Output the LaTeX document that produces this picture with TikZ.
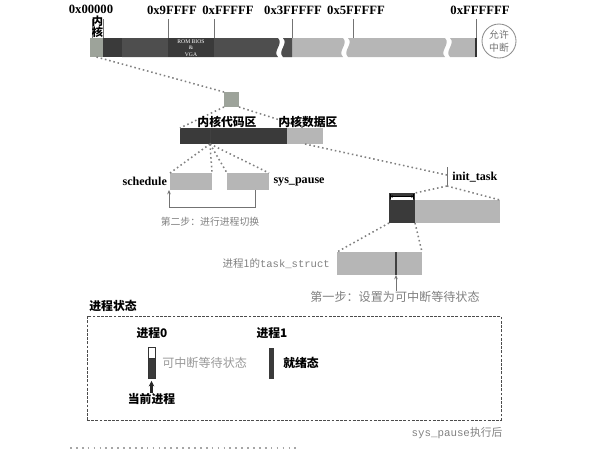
\documentclass[tikz,border=0pt]{standalone}
\usepackage{fontspec}
\setmainfont{Liberation Serif}
\setmonofont{Liberation Mono}
\newfontfamily\cjk{Noto Sans CJK SC}
\usetikzlibrary{arrows.meta}

\definecolor{deep}{HTML}{3A3A3A}
\definecolor{mid}{HTML}{4E4E4E}
\definecolor{light}{HTML}{B6B6B6}
\definecolor{kern}{HTML}{9DA39A}

\begin{document}
\begin{tikzpicture}[x=0.025cm, y=-0.025cm,
    hex/.style={font=\bfseries\fontsize{9}{9}\selectfont, inner sep=0pt},
    lbl/.style={font=\bfseries\fontsize{8.6}{9}\selectfont, inner sep=0pt},
    cn/.style={font=\cjk\bfseries\fontsize{8.4}{9}\selectfont, inner sep=0pt},
    note/.style={font=\cjk\fontsize{8.6}{9}\selectfont, text=black!50, inner sep=0pt},
    bar/.style={rectangle, draw=none, inner sep=0pt, outer sep=0pt},
    dot/.style={black!50, line width=1.1pt, dash pattern=on 1.1pt off 2pt},
    tick/.style={black!55, line width=0.5pt},
    arrow/.style={-{Stealth[length=3pt,width=2.5pt]}, black!55, line width=0.5pt}
]
    \useasboundingbox (0,0) rectangle (611,450);

    % Memory map
    \node[bar, fill=kern, minimum width=0.325cm, minimum height=0.475cm] (kern) at (96.5,47.5) {};
    \fill[deep] (103,38) rectangle (122,57);
    \fill[mid] (122,38) -- (278,38) .. controls (284,44) and (272,51) .. (278,57) -- (122,57) -- cycle;
    \fill[deep] (168,38) rectangle (214,57);
    \node[font=\fontsize{4}{4.5}\selectfont, text=white, align=center, inner sep=0pt] (rom) at (191,48) {ROM BIOS\\\&\\VGA};
    \fill[light] (283,38) -- (343,38) .. controls (349,44) and (337,51) .. (343,57) -- (283,57) .. controls (277,51) and (289,44) .. (283,38) -- cycle;
    \fill[mid] (283,38) -- (292,38) -- (292,57) -- (283,57) .. controls (277,51) and (289,44) .. (283,38) -- cycle;
    \fill[light] (348,38) -- (445,38) .. controls (451,44) and (439,51) .. (445,57) -- (348,57) .. controls (342,51) and (354,44) .. (348,38) -- cycle;
    \fill[light] (450,38) -- (476,38) -- (476,57) -- (450,57) .. controls (444,51) and (456,44) .. (450,38) -- cycle;
    \draw[line width=1pt, black!80] (476,38) -- (476,57);

    % Addresses
    \node[hex] (h0) at (91,9) {0x00000};
    \draw[tick] (92,19) -- (92,38);
    \draw[tick] (103,19) -- (103,38);
    \node[cn, font=\cjk\bfseries\fontsize{8}{9}\selectfont] (nei) at (97.5,21) {内};
    \node[cn, font=\cjk\bfseries\fontsize{8}{9}\selectfont] (he) at (97.5,32) {核};
    \foreach \x/\lx/\t in {168/172/0x9FFFF, 214/228/0xFFFFF, 292/293/0x3FFFFF, 353/356/0x5FFFFF, 476/480/0xFFFFFF} {
        \draw[tick] (\x,19) -- (\x,38);
        \node[hex] (h\x) at (\lx,10) {\t};
    }
    \node[circle, draw=black!45, line width=0.6pt, minimum size=0.85cm, inner sep=0pt, align=center,
          font=\cjk\fontsize{7}{9}\selectfont, text=black!55] (irq) at (499,41) {允许\\中断};

    % Kernel area
    \node[bar, fill=kern, minimum size=0.375cm] (sq) at (231.5,99.5) {};
    \draw[dot] (kern.south) -- (sq.north west);
    \node[bar, fill=deep, minimum width=2.675cm, minimum height=0.4cm] (code) at (233.5,136) {};
    \node[bar, fill=light, minimum width=0.9cm, minimum height=0.4cm] (data) at (305,136) {};
    \coordinate (split) at (210,144);
    \draw[black!75, line width=0.4pt] (210,128) -- (split);
    \draw[dot] (sq.south west) -- (code.north west);
    \draw[dot] (sq.south east) -- (data.north);
    \node[cn] (codelbl) at (227,122) {内核代码区};
    \node[cn] (datalbl) at (308,122) {内核数据区};

    % schedule / sys_pause
    \node[bar, fill=light, minimum width=1.05cm, minimum height=0.425cm] (sched) at (191,181.5) {};
    \node[bar, fill=light, minimum width=1.05cm, minimum height=0.425cm] (pause) at (248,181.5) {};
    \foreach \a in {sched.north west, sched.north east, pause.north west, pause.north east}
        \draw[dot] (split) -- (\a);
    \node[lbl, anchor=east] (schedlbl) at ([xshift=-2pt]sched.west) {schedule};
    \node[lbl, anchor=west] (pauselbl) at ([xshift=3pt]pause.east) {sys\_pause};
    \draw[arrow] ([xshift=0.175cm]pause.south) -- ++(0,17) -| ([xshift=-0.025cm]sched.south west);
    \node[note, font=\cjk\fontsize{7}{8}\selectfont] (step2) at (210,222) {第二步：进行进程切换};

    % init_task
    \node[bar, fill=light, minimum width=2.125cm, minimum height=0.575cm] (task) at (457.5,211.5) {};
    \node[bar, fill=deep, minimum width=0.65cm, minimum height=0.75cm] (blk) at (402,208) {};
    \fill[white] (391,196) rectangle (413,200);
    \draw[{Bar[width=3pt]Stealth[length=1.5pt,width=2pt]}-{Stealth[length=1.5pt,width=2pt]Bar[width=3pt]}, line width=0.4pt] (390,196.5) -- (414,196.5);
    \coordinate (itop) at (447,167);
    \coordinate (imid) at (447,175);
    \coordinate (ibot) at (447,186);
    \draw[tick] (itop) -- (ibot);
    \node[lbl, anchor=west] (initlbl) at (452,177) {init\_task};
    \draw[dot] (data.south) -- (imid);
    \draw[dot] (ibot) -- (blk.north east);
    \draw[dot] (ibot) -- (task.north east);

    % task_struct of process 1
    \node[bar, fill=light, minimum width=2.125cm, minimum height=0.575cm] (ts) at (379.5,263.5) {};
    \coordinate (stflag) at (396,275);
    \draw[black!75, line width=1pt] (396,252) -- (stflag);
    \draw[dot] (blk.south west) -- (ts.north west);
    \draw[dot] (blk.south east) -- (ts.north east);
    \node[note, anchor=east, font=\fontsize{7.5}{8}\selectfont] (tslbl) at ([xshift=-5pt]ts.west) {{\cjk 进程1的}\ttfamily task\_struct};
    \node[note] (step1) at (395,297) {第一步：设置为可中断等待状态};
    \draw[arrow] (step1.north -| stflag) -- (stflag);

    % Process states
    \node[cn] (statelbl) at (113,306) {进程状态};
    \node[draw=black!70, line width=0.6pt, dash pattern=on 2pt off 1pt, minimum width=10.35cm, minimum height=2.6cm] (statebox) at (294,368) {};
    \node[cn] (p0lbl) at (152,333) {进程0};
    \node[bar, draw=black!80, line width=0.4pt, fill=deep, minimum width=0.175cm, minimum height=0.775cm] (p0) at (151.5,362.5) {};
    \fill[white, draw=black!80, line width=0.4pt] (p0.north west) rectangle ([yshift=-0.275cm]p0.north east);
    \node[note, anchor=west, text=black!40] (waitlbl) at (162,363) {可中断等待状态};
    \node[cn] (cur) at (151.5,399) {当前进程};
    \draw[-{Stealth[length=4pt,width=4pt]}, line width=1.5pt, black!85] (cur.north) -- ([yshift=-2pt]p0.south);
    \node[cn] (p1lbl) at (272,333) {进程1};
    \node[bar, fill=deep, minimum width=0.125cm, minimum height=0.775cm] (p1) at (271.5,363.5) {};
    \node[cn, anchor=west] (readylbl) at (283,363) {就绪态};

    \node[note, font=\fontsize{7.7}{8}\selectfont] (caption) at (457,433) {\ttfamily sys\_pause{\cjk 执行后}};
    \draw[black!35, line width=1.2pt, dash pattern=on 1.2pt off 3pt] (70,448) -- (300,448);
\end{tikzpicture}
\end{document}
